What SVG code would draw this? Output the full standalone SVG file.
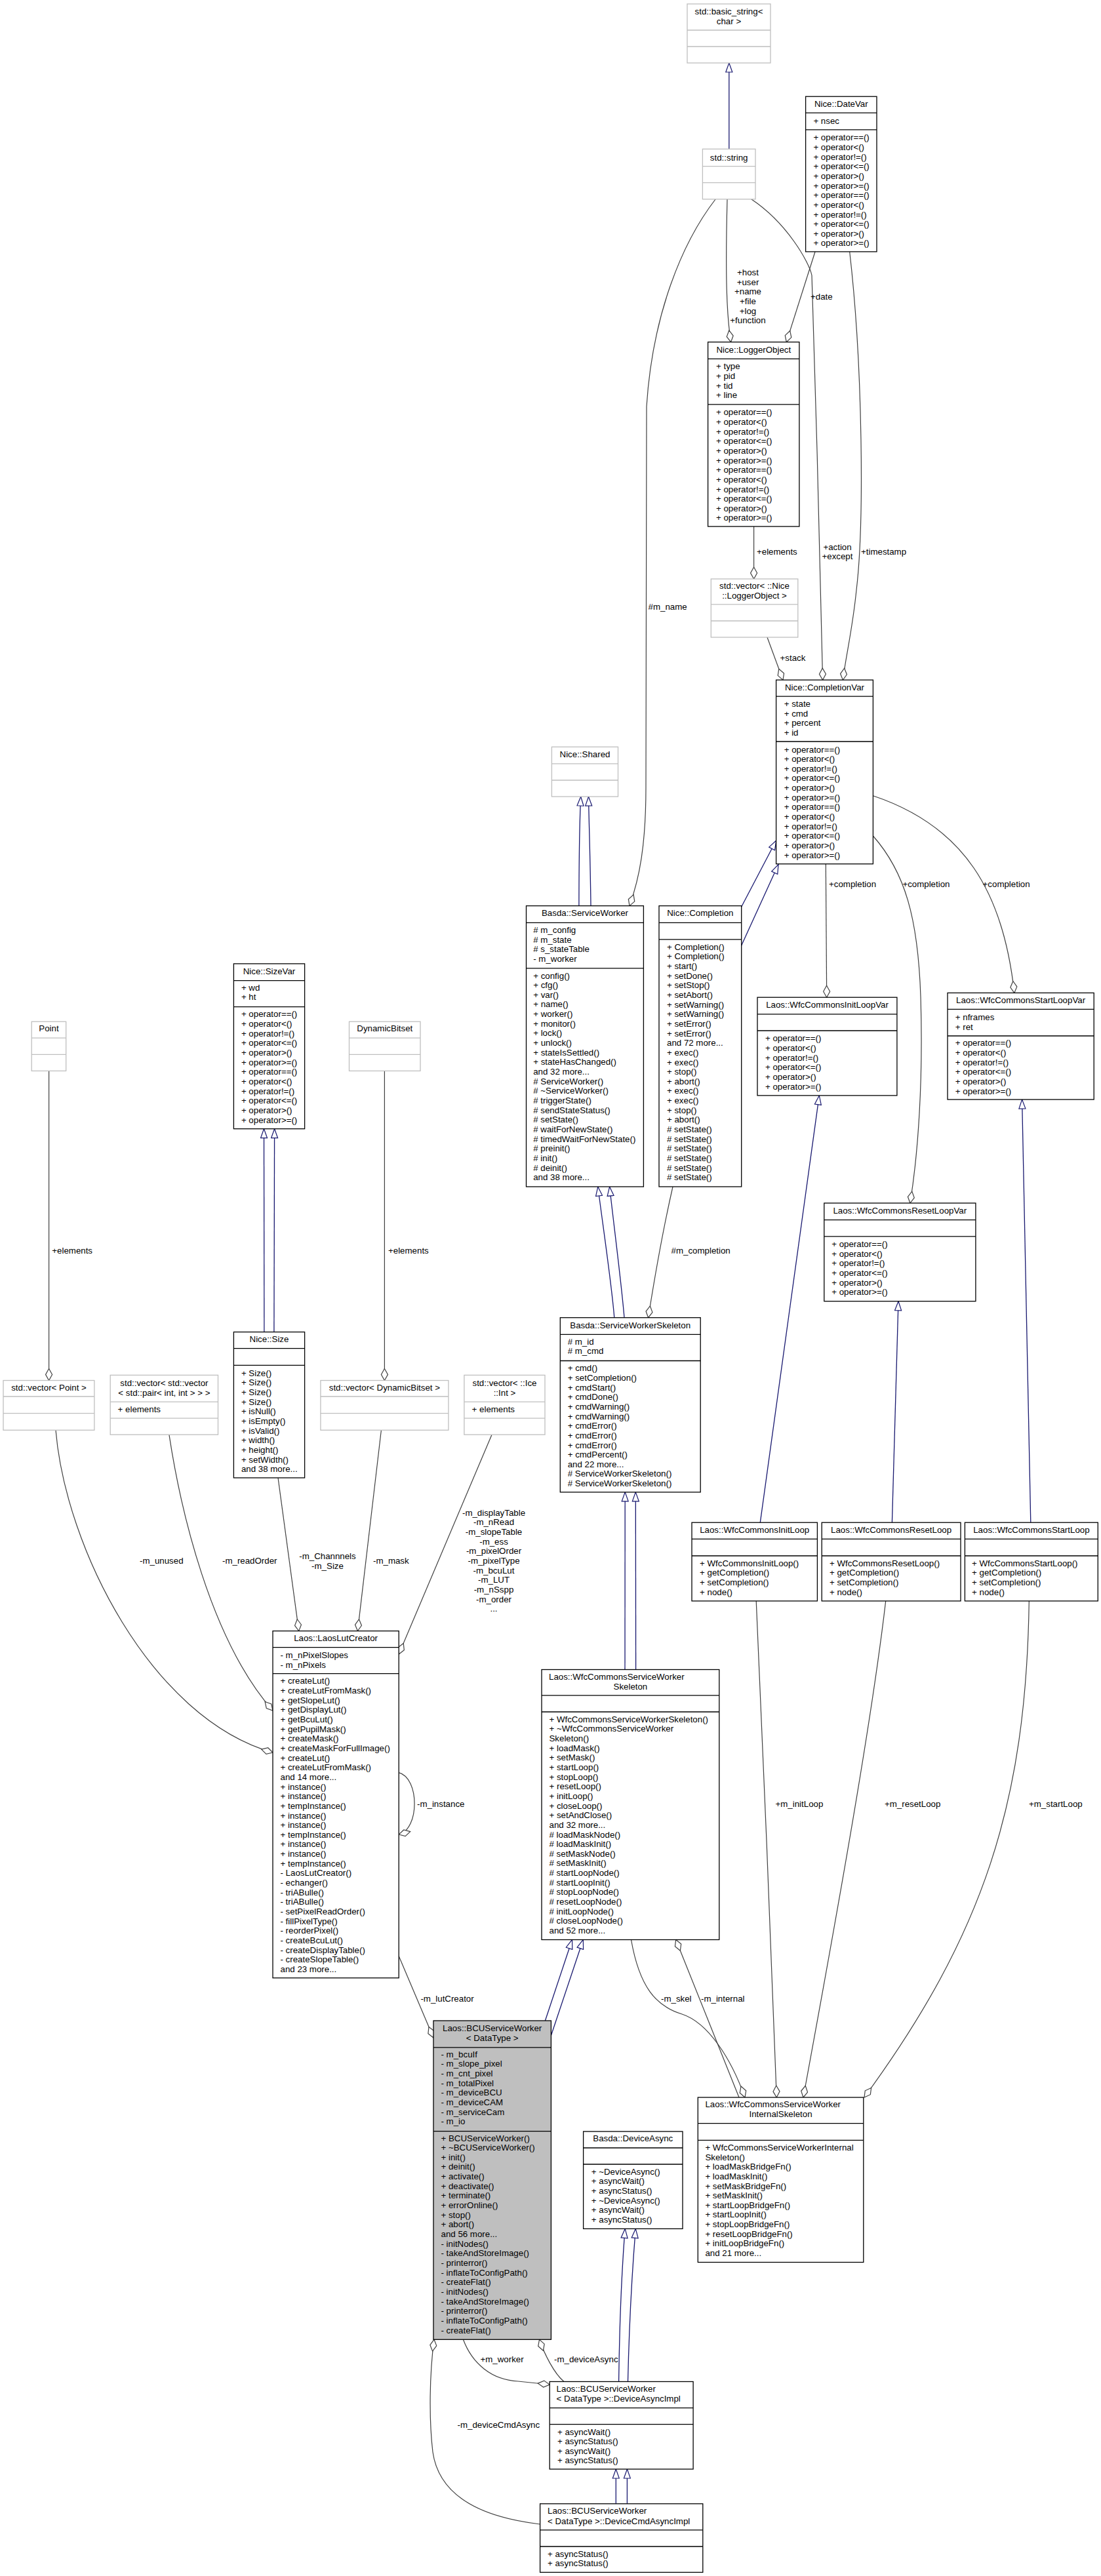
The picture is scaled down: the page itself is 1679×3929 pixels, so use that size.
<svg xmlns="http://www.w3.org/2000/svg" width="1679" height="3929" viewBox="0 0 1679 3929">
<style>
.n{fill:#fff;stroke:#000;stroke-width:1.3}
.g{fill:#fff;stroke:#bfbfbf;stroke-width:1.3}
.h{fill:#bfbfbf;stroke:#000;stroke-width:1.3}
.t{font-family:"Liberation Sans",Arial,sans-serif;font-size:13.3px;fill:#000}
.c{text-anchor:middle}
.u{fill:none;stroke:#404040;stroke-width:1.2;marker-end:url(#dia)}
.i{fill:none;stroke:#191970;stroke-width:1.3;marker-end:url(#tri)}
</style>
<defs>
<marker id="tri" markerUnits="userSpaceOnUse" markerWidth="16" markerHeight="12" viewBox="-1 -1 16 12" refX="14" refY="5" orient="auto"><path d="M0,0L14,5L0,10Z" fill="#fff" stroke="#191970" stroke-width="1.2"/></marker>
<marker id="dia" markerUnits="userSpaceOnUse" markerWidth="20" markerHeight="12" viewBox="-1 -1 20 12" refX="18" refY="5" orient="auto"><path d="M0,5L9,0L18,5L9,10Z" fill="#fff" stroke="#404040" stroke-width="1.2"/></marker>
</defs>
<rect width="1679" height="3929" fill="#fff"/>

<g id="connectors">
<!-- inheritance -->
<path class="i" d="M1111.8,227.3L1111.8,96"/>
<path class="i" d="M882.9,1381.6C883,1300 884,1250 885.7,1215"/>
<path class="i" d="M901,1381.6C900,1300 898,1250 897.5,1215"/>
<path class="i" d="M1130.7,1383L1183.6,1282"/>
<path class="i" d="M1130.7,1442L1187,1318.5"/>
<path class="i" d="M936.8,2009.7C933,1960 918,1860 911.8,1810"/>
<path class="i" d="M952,2009.7C948,1960 935,1860 929.6,1810"/>
<path class="i" d="M953,2546.5L953.2,2275.9"/>
<path class="i" d="M969.6,2546.5L969.3,2275.9"/>
<path class="i" d="M1159.3,2322.2L1249.3,1670.9"/>
<path class="i" d="M1360.4,2322.2L1370,1984.7"/>
<path class="i" d="M1571.8,2322.2L1558.6,1677"/>
<path class="i" d="M402.9,2031.6L402.5,1721.7"/>
<path class="i" d="M417.9,2031.6L418.6,1721.7"/>
<path class="i" d="M831.4,3082L872.5,2958.5"/>
<path class="i" d="M840.4,3104.5L889.3,2958.5"/>
<path class="i" d="M943.6,3632.5C945,3520 950,3440 953.2,3399.4"/>
<path class="i" d="M957.5,3632.5C960,3520 966,3440 969.3,3399.4"/>
<path class="i" d="M939.3,3818.8L939.3,3766"/>
<path class="i" d="M956.4,3818.8L956.4,3766"/>
<!-- usage -->
<path class="u" d="M1109,304C1106,420 1108,480 1114.6,521.7"/>
<path class="u" d="M1243,384L1199.3,521.7"/>
<path class="u" d="M1145.7,303.8C1200,340 1234,400 1238,420C1244,600 1252,900 1254.6,1037.1"/>
<path class="u" d="M1295.7,384C1316,560 1318,800 1306,900C1300,960 1290,1000 1285.4,1037.1"/>
<path class="u" d="M1149.6,803L1149.6,883"/>
<path class="u" d="M1170,972L1194,1037.1"/>
<path class="u" d="M1091,304C1040,370 995,480 986,620L985,1200C985,1290 975,1340 960,1381.6"/>
<path class="u" d="M1026,1810C1010,1880 998,1950 988.6,2009.7"/>
<path class="u" d="M1259.3,1317.7L1260.7,1521.2"/>
<path class="u" d="M1331.4,1275C1380,1330 1400,1400 1404,1520C1408,1650 1400,1760 1387.9,1835"/>
<path class="u" d="M1331.4,1213.7C1470,1260 1530,1360 1546.8,1514.4"/>
<path class="u" d="M74.6,1633.4L74.6,2105.5"/>
<path class="u" d="M586.4,1633.4L586.4,2105.5"/>
<path class="u" d="M85,2181.3C100,2360 230,2620 416,2673"/>
<path class="u" d="M257.9,2188.2C275,2300 320,2500 416,2609"/>
<path class="u" d="M424,2254L455.7,2487.6"/>
<path class="u" d="M581.4,2181.3L545.4,2487.6"/>
<path class="u" d="M750,2188.2L608.2,2523"/>
<path class="u" d="M608.2,2703.6C640,2712 640,2790 608.2,2798"/>
<path class="u" d="M608.2,2983.6L661,3108"/>
<path class="u" d="M962.5,2958.5C975,3030 1000,3060 1040,3072C1080,3085 1115,3140 1136,3199"/>
<path class="u" d="M1127,3199L1030.7,2958.5"/>
<path class="u" d="M1153.2,2441.9C1162,2650 1178,3000 1184.3,3199"/>
<path class="u" d="M1350.7,2441.9C1330,2620 1280,2900 1225,3199"/>
<path class="u" d="M1569.3,2441.9C1565,2750 1500,2950 1318,3199"/>
<path class="u" d="M706.4,3568.3C720,3605 750,3630 790,3632L838.2,3637"/>
<path class="u" d="M860,3632.5C845,3620 830,3590 822.5,3568.3"/>
<path class="u" d="M823.6,3850C740,3840 670,3810 660,3740C654,3690 655,3620 662,3568.3"/>
<!-- labels -->
<text class="t c" x="1140.5"><tspan x="1140.5" y="419.7">+host</tspan><tspan x="1140.5" y="434.8">+user</tspan><tspan x="1140.5" y="449.2">+name</tspan><tspan x="1140.5" y="464.2">+file</tspan><tspan x="1140.5" y="479.2">+log</tspan><tspan x="1140.5" y="493">+function</tspan></text>
<text class="t" x="1236" y="456.7">+date</text>
<text class="t c"><tspan x="1277" y="838.8">+action</tspan><tspan x="1277" y="853.1">+except</tspan></text>
<text class="t" x="1313" y="845.6">+timestamp</text>
<text class="t" x="1154" y="845.6">+elements</text>
<text class="t" x="1189.6" y="1008.4">+stack</text>
<text class="t" x="988.6" y="930.2">#m_name</text>
<text class="t" x="1023.6" y="1912.1">#m_completion</text>
<text class="t" x="1264" y="1352.9">+completion</text>
<text class="t" x="1376.4" y="1352.9">+completion</text>
<text class="t" x="1498.6" y="1352.9">+completion</text>
<text class="t" x="79.3" y="1912.1">+elements</text>
<text class="t" x="592" y="1912.1">+elements</text>
<text class="t" x="213" y="2385">-m_unused</text>
<text class="t" x="339" y="2385">-m_readOrder</text>
<text class="t c"><tspan x="499.5" y="2378.1">-m_Channnels</tspan><tspan x="499.5" y="2393.1">-m_Size</tspan></text>
<text class="t" x="569" y="2385">-m_mask</text>
<text class="t c"><tspan x="753" y="2311.7">-m_displayTable</tspan><tspan x="753" y="2326.4">-m_nRead</tspan><tspan x="753" y="2341">-m_slopeTable</tspan><tspan x="753" y="2355.7">-m_ess</tspan><tspan x="753" y="2370.3">-m_pixelOrder</tspan><tspan x="753" y="2385">-m_pixelType</tspan><tspan x="753" y="2399.6">-m_bcuLut</tspan><tspan x="753" y="2414.3">-m_LUT</tspan><tspan x="753" y="2428.9">-m_nSspp</tspan><tspan x="753" y="2443.6">-m_order</tspan><tspan x="753" y="2458.2">...</tspan></text>
<text class="t" x="636" y="2755.5">-m_instance</text>
<text class="t" x="641.4" y="3052.5">-m_lutCreator</text>
<text class="t" x="1008" y="3052.5">-m_skel</text>
<text class="t" x="1069" y="3052.5">-m_internal</text>
<text class="t" x="1182.5" y="2755.5">+m_initLoop</text>
<text class="t" x="1349" y="2755.5">+m_resetLoop</text>
<text class="t" x="1569" y="2755.5">+m_startLoop</text>
<text class="t" x="732.5" y="3603.1">+m_worker</text>
<text class="t" x="845" y="3603.1">-m_deviceAsync</text>
<text class="t" x="697.5" y="3702.5">-m_deviceCmdAsync</text>
</g>

<g id="n_basic_string">
<rect class="g" x="1048" y="6" width="127" height="90"/>
<path class="g" d="M1048,46H1175M1048,71H1175"/>
<text class="t c"><tspan x="1111.5" y="22">std::basic_string&lt;</tspan><tspan x="1111.5" y="37">char &gt;</tspan></text>
</g>

<g id="n_string">
<rect class="g" x="1071.4" y="227.3" width="80.6" height="76.5"/>
<path class="g" d="M1071.4,253.6H1152M1071.4,278.7H1152"/>
<text class="t c" x="1111.7" y="244.5">std::string</text>
</g>

<g id="n_datevar">
<rect class="n" x="1228.6" y="147.2" width="108.4" height="236.7"/>
<path class="n" d="M1228.6,172.2H1337M1228.6,197.9H1337"/>
<text class="t c" x="1282.8" y="163">Nice::DateVar</text>
<text class="t" x="1240.4" y="189.3">+ nsec</text>
<text class="t"><tspan x="1240.4" y="214.3">+ operator==()</tspan><tspan x="1240.4" dy="14.65">+ operator&lt;()</tspan><tspan x="1240.4" dy="14.65">+ operator!=()</tspan><tspan x="1240.4" dy="14.65">+ operator&lt;=()</tspan><tspan x="1240.4" dy="14.65">+ operator&gt;()</tspan><tspan x="1240.4" dy="14.65">+ operator&gt;=()</tspan><tspan x="1240.4" dy="14.65">+ operator==()</tspan><tspan x="1240.4" dy="14.65">+ operator&lt;()</tspan><tspan x="1240.4" dy="14.65">+ operator!=()</tspan><tspan x="1240.4" dy="14.65">+ operator&lt;=()</tspan><tspan x="1240.4" dy="14.65">+ operator&gt;()</tspan><tspan x="1240.4" dy="14.65">+ operator&gt;=()</tspan></text>
</g>

<g id="n_loggerobject">
<rect class="n" x="1079.6" y="521.7" width="139.3" height="281.3"/>
<path class="n" d="M1079.6,547.4H1218.9M1079.6,616.9H1218.9"/>
<text class="t c" x="1149.3" y="538.1">Nice::LoggerObject</text>
<text class="t"><tspan x="1092" y="563.2">+ type</tspan><tspan x="1092" dy="14.65">+ pid</tspan><tspan x="1092" dy="14.65">+ tid</tspan><tspan x="1092" dy="14.65">+ line</tspan></text>
<text class="t"><tspan x="1092" y="633.3">+ operator==()</tspan><tspan x="1092" dy="14.65">+ operator&lt;()</tspan><tspan x="1092" dy="14.65">+ operator!=()</tspan><tspan x="1092" dy="14.65">+ operator&lt;=()</tspan><tspan x="1092" dy="14.65">+ operator&gt;()</tspan><tspan x="1092" dy="14.65">+ operator&gt;=()</tspan><tspan x="1092" dy="14.65">+ operator==()</tspan><tspan x="1092" dy="14.65">+ operator&lt;()</tspan><tspan x="1092" dy="14.65">+ operator!=()</tspan><tspan x="1092" dy="14.65">+ operator&lt;=()</tspan><tspan x="1092" dy="14.65">+ operator&gt;()</tspan><tspan x="1092" dy="14.65">+ operator&gt;=()</tspan></text>
</g>

<g id="n_vector_loggerobject">
<rect class="g" x="1084.3" y="883" width="132.5" height="89"/>
<path class="g" d="M1084.3,921.9H1216.8M1084.3,947H1216.8"/>
<text class="t c"><tspan x="1150.5" y="898.2">std::vector&lt; ::Nice</tspan><tspan x="1150.5" y="913.2">::LoggerObject &gt;</tspan></text>
</g>

<g id="n_completionvar">
<rect class="n" x="1183.6" y="1037.1" width="147.8" height="280.6"/>
<path class="n" d="M1183.6,1062.2H1331.4M1183.6,1131H1331.4"/>
<text class="t c" x="1257.5" y="1052.9">Nice::CompletionVar</text>
<text class="t"><tspan x="1195.7" y="1077.9">+ state</tspan><tspan x="1195.7" dy="14.65">+ cmd</tspan><tspan x="1195.7" dy="14.65">+ percent</tspan><tspan x="1195.7" dy="14.65">+ id</tspan></text>
<text class="t"><tspan x="1195.7" y="1147.5">+ operator==()</tspan><tspan x="1195.7" dy="14.65">+ operator&lt;()</tspan><tspan x="1195.7" dy="14.65">+ operator!=()</tspan><tspan x="1195.7" dy="14.65">+ operator&lt;=()</tspan><tspan x="1195.7" dy="14.65">+ operator&gt;()</tspan><tspan x="1195.7" dy="14.65">+ operator&gt;=()</tspan><tspan x="1195.7" dy="14.65">+ operator==()</tspan><tspan x="1195.7" dy="14.65">+ operator&lt;()</tspan><tspan x="1195.7" dy="14.65">+ operator!=()</tspan><tspan x="1195.7" dy="14.65">+ operator&lt;=()</tspan><tspan x="1195.7" dy="14.65">+ operator&gt;()</tspan><tspan x="1195.7" dy="14.65">+ operator&gt;=()</tspan></text>
</g>

<g id="n_shared">
<rect class="g" x="841.4" y="1139.2" width="101.1" height="75.8"/>
<path class="g" d="M841.4,1164.9H942.5M841.4,1190H942.5"/>
<text class="t c" x="892" y="1155">Nice::Shared</text>
</g>

<g id="n_serviceworker">
<rect class="n" x="802.5" y="1381.6" width="178.9" height="428.4"/>
<path class="n" d="M802.5,1407.3H981.4M802.5,1476.8H981.4"/>
<text class="t c" x="892" y="1397.4">Basda::ServiceWorker</text>
<text class="t"><tspan x="813.2" y="1423"># m_config</tspan><tspan x="813.2" dy="14.65"># m_state</tspan><tspan x="813.2" dy="14.65"># s_stateTable</tspan><tspan x="813.2" dy="14.65">- m_worker</tspan></text>
<text class="t"><tspan x="813.2" y="1492.5">+ config()</tspan><tspan x="813.2" dy="14.65">+ cfg()</tspan><tspan x="813.2" dy="14.65">+ var()</tspan><tspan x="813.2" dy="14.65">+ name()</tspan><tspan x="813.2" dy="14.65">+ worker()</tspan><tspan x="813.2" dy="14.65">+ monitor()</tspan><tspan x="813.2" dy="14.65">+ lock()</tspan><tspan x="813.2" dy="14.65">+ unlock()</tspan><tspan x="813.2" dy="14.65">+ stateIsSettled()</tspan><tspan x="813.2" dy="14.65">+ stateHasChanged()</tspan><tspan x="813.2" dy="14.65">and 32 more...</tspan><tspan x="813.2" dy="14.65"># ServiceWorker()</tspan><tspan x="813.2" dy="14.65"># ~ServiceWorker()</tspan><tspan x="813.2" dy="14.65"># triggerState()</tspan><tspan x="813.2" dy="14.65"># sendStateStatus()</tspan><tspan x="813.2" dy="14.65"># setState()</tspan><tspan x="813.2" dy="14.65"># waitForNewState()</tspan><tspan x="813.2" dy="14.65"># timedWaitForNewState()</tspan><tspan x="813.2" dy="14.65"># preinit()</tspan><tspan x="813.2" dy="14.65"># init()</tspan><tspan x="813.2" dy="14.65"># deinit()</tspan><tspan x="813.2" dy="14.65">and 38 more...</tspan></text>
</g>

<g id="n_completion">
<rect class="n" x="1005" y="1381.6" width="125.7" height="428.4"/>
<path class="n" d="M1005,1407.3H1130.7M1005,1432.9H1130.7"/>
<text class="t c" x="1067.8" y="1397.4">Nice::Completion</text>
<text class="t"><tspan x="1017" y="1448.7">+ Completion()</tspan><tspan x="1017" dy="14.65">+ Completion()</tspan><tspan x="1017" dy="14.65">+ start()</tspan><tspan x="1017" dy="14.65">+ setDone()</tspan><tspan x="1017" dy="14.65">+ setStop()</tspan><tspan x="1017" dy="14.65">+ setAbort()</tspan><tspan x="1017" dy="14.65">+ setWarning()</tspan><tspan x="1017" dy="14.65">+ setWarning()</tspan><tspan x="1017" dy="14.65">+ setError()</tspan><tspan x="1017" dy="14.65">+ setError()</tspan><tspan x="1017" dy="14.65">and 72 more...</tspan><tspan x="1017" dy="14.65">+ exec()</tspan><tspan x="1017" dy="14.65">+ exec()</tspan><tspan x="1017" dy="14.65">+ stop()</tspan><tspan x="1017" dy="14.65">+ abort()</tspan><tspan x="1017" dy="14.65">+ exec()</tspan><tspan x="1017" dy="14.65">+ exec()</tspan><tspan x="1017" dy="14.65">+ stop()</tspan><tspan x="1017" dy="14.65">+ abort()</tspan><tspan x="1017" dy="14.65"># setState()</tspan><tspan x="1017" dy="14.65"># setState()</tspan><tspan x="1017" dy="14.65"># setState()</tspan><tspan x="1017" dy="14.65"># setState()</tspan><tspan x="1017" dy="14.65"># setState()</tspan><tspan x="1017" dy="14.65"># setState()</tspan></text>
</g>

<g id="n_serviceworkerskeleton">
<rect class="n" x="854.3" y="2009.7" width="213.9" height="266.2"/>
<path class="n" d="M854.3,2035.4H1068.2M854.3,2075.5H1068.2"/>
<text class="t c" x="961.2" y="2026.1">Basda::ServiceWorkerSkeleton</text>
<text class="t"><tspan x="865.7" y="2050.5"># m_id</tspan><tspan x="865.7" dy="14.65"># m_cmd</tspan></text>
<text class="t"><tspan x="865.7" y="2091.3">+ cmd()</tspan><tspan x="865.7" dy="14.65">+ setCompletion()</tspan><tspan x="865.7" dy="14.65">+ cmdStart()</tspan><tspan x="865.7" dy="14.65">+ cmdDone()</tspan><tspan x="865.7" dy="14.65">+ cmdWarning()</tspan><tspan x="865.7" dy="14.65">+ cmdWarning()</tspan><tspan x="865.7" dy="14.65">+ cmdError()</tspan><tspan x="865.7" dy="14.65">+ cmdError()</tspan><tspan x="865.7" dy="14.65">+ cmdError()</tspan><tspan x="865.7" dy="14.65">+ cmdPercent()</tspan><tspan x="865.7" dy="14.65">and 22 more...</tspan><tspan x="865.7" dy="14.65"># ServiceWorkerSkeleton()</tspan><tspan x="865.7" dy="14.65"># ServiceWorkerSkeleton()</tspan></text>
</g>

<g id="n_wfcskeleton">
<rect class="n" x="826" y="2546.5" width="270.8" height="412"/>
<path class="n" d="M826,2585.9H1096.8M826,2611H1096.8"/>
<text class="t" x="837" y="2561.5">Laos::WfcCommonsServiceWorker</text>
<text class="t c" x="961.4" y="2576.5">Skeleton</text>
<text class="t"><tspan x="837.5" y="2626.7">+ WfcCommonsServiceWorkerSkeleton()</tspan><tspan x="837.5" dy="14.65">+ ~WfcCommonsServiceWorker</tspan><tspan x="837.5" dy="14.65">Skeleton()</tspan><tspan x="837.5" dy="14.65">+ loadMask()</tspan><tspan x="837.5" dy="14.65">+ setMask()</tspan><tspan x="837.5" dy="14.65">+ startLoop()</tspan><tspan x="837.5" dy="14.65">+ stopLoop()</tspan><tspan x="837.5" dy="14.65">+ resetLoop()</tspan><tspan x="837.5" dy="14.65">+ initLoop()</tspan><tspan x="837.5" dy="14.65">+ closeLoop()</tspan><tspan x="837.5" dy="14.65">+ setAndClose()</tspan><tspan x="837.5" dy="14.65">and 32 more...</tspan><tspan x="837.5" dy="14.65"># loadMaskNode()</tspan><tspan x="837.5" dy="14.65"># loadMaskInit()</tspan><tspan x="837.5" dy="14.65"># setMaskNode()</tspan><tspan x="837.5" dy="14.65"># setMaskInit()</tspan><tspan x="837.5" dy="14.65"># startLoopNode()</tspan><tspan x="837.5" dy="14.65"># startLoopInit()</tspan><tspan x="837.5" dy="14.65"># stopLoopNode()</tspan><tspan x="837.5" dy="14.65"># resetLoopNode()</tspan><tspan x="837.5" dy="14.65"># initLoopNode()</tspan><tspan x="837.5" dy="14.65"># closeLoopNode()</tspan><tspan x="837.5" dy="14.65">and 52 more...</tspan></text>
</g>

<g id="n_initloopvar">
<rect class="n" x="1155" y="1521.2" width="212.9" height="149.7"/>
<path class="n" d="M1155,1546.9H1367.9M1155,1572H1367.9"/>
<text class="t c" x="1261.5" y="1537">Laos::WfcCommonsInitLoopVar</text>
<text class="t"><tspan x="1167" y="1588.4">+ operator==()</tspan><tspan x="1167" dy="14.65">+ operator&lt;()</tspan><tspan x="1167" dy="14.65">+ operator!=()</tspan><tspan x="1167" dy="14.65">+ operator&lt;=()</tspan><tspan x="1167" dy="14.65">+ operator&gt;()</tspan><tspan x="1167" dy="14.65">+ operator&gt;=()</tspan></text>
</g>

<g id="n_startloopvar">
<rect class="n" x="1445" y="1514.4" width="223.2" height="162.6"/>
<path class="n" d="M1445,1539.4H1668.2M1445,1580H1668.2"/>
<text class="t c" x="1556.6" y="1529.5">Laos::WfcCommonsStartLoopVar</text>
<text class="t"><tspan x="1456.8" y="1556.2">+ nframes</tspan><tspan x="1456.8" dy="14.65">+ ret</tspan></text>
<text class="t"><tspan x="1456.8" y="1595.3">+ operator==()</tspan><tspan x="1456.8" dy="14.65">+ operator&lt;()</tspan><tspan x="1456.8" dy="14.65">+ operator!=()</tspan><tspan x="1456.8" dy="14.65">+ operator&lt;=()</tspan><tspan x="1456.8" dy="14.65">+ operator&gt;()</tspan><tspan x="1456.8" dy="14.65">+ operator&gt;=()</tspan></text>
</g>

<g id="n_resetloopvar">
<rect class="n" x="1256.8" y="1835" width="231.1" height="149.7"/>
<path class="n" d="M1256.8,1860.7H1487.9M1256.8,1885.8H1487.9"/>
<text class="t c" x="1372.3" y="1850.8">Laos::WfcCommonsResetLoopVar</text>
<text class="t"><tspan x="1268.2" y="1902.1">+ operator==()</tspan><tspan x="1268.2" dy="14.65">+ operator&lt;()</tspan><tspan x="1268.2" dy="14.65">+ operator!=()</tspan><tspan x="1268.2" dy="14.65">+ operator&lt;=()</tspan><tspan x="1268.2" dy="14.65">+ operator&gt;()</tspan><tspan x="1268.2" dy="14.65">+ operator&gt;=()</tspan></text>
</g>

<g id="n_initloop">
<rect class="n" x="1055" y="2322.2" width="191.4" height="119.7"/>
<path class="n" d="M1055,2347.3H1246.4M1055,2373H1246.4"/>
<text class="t c" x="1150.7" y="2338">Laos::WfcCommonsInitLoop</text>
<text class="t"><tspan x="1067.1" y="2388.7">+ WfcCommonsInitLoop()</tspan><tspan x="1067.1" dy="14.65">+ getCompletion()</tspan><tspan x="1067.1" dy="14.65">+ setCompletion()</tspan><tspan x="1067.1" dy="14.65">+ node()</tspan></text>
</g>

<g id="n_resetloop">
<rect class="n" x="1253.2" y="2322.2" width="211.8" height="119.7"/>
<path class="n" d="M1253.2,2347.3H1465M1253.2,2373H1465"/>
<text class="t c" x="1359.1" y="2338">Laos::WfcCommonsResetLoop</text>
<text class="t"><tspan x="1265" y="2388.7">+ WfcCommonsResetLoop()</tspan><tspan x="1265" dy="14.65">+ getCompletion()</tspan><tspan x="1265" dy="14.65">+ setCompletion()</tspan><tspan x="1265" dy="14.65">+ node()</tspan></text>
</g>

<g id="n_startloop">
<rect class="n" x="1471.4" y="2322.2" width="202.9" height="119.7"/>
<path class="n" d="M1471.4,2347.3H1674.3M1471.4,2373H1674.3"/>
<text class="t c" x="1572.9" y="2338">Laos::WfcCommonsStartLoop</text>
<text class="t"><tspan x="1482.1" y="2388.7">+ WfcCommonsStartLoop()</tspan><tspan x="1482.1" dy="14.65">+ getCompletion()</tspan><tspan x="1482.1" dy="14.65">+ setCompletion()</tspan><tspan x="1482.1" dy="14.65">+ node()</tspan></text>
</g>

<g id="n_internalskeleton">
<rect class="n" x="1064.3" y="3199" width="252.5" height="251.5"/>
<path class="n" d="M1064.3,3238.6H1316.8M1064.3,3264.3H1316.8"/>
<text class="t" x="1075.4" y="3214.2">Laos::WfcCommonsServiceWorker</text>
<text class="t c" x="1190.5" y="3229.2">InternalSkeleton</text>
<text class="t"><tspan x="1075.4" y="3279.9">+ WfcCommonsServiceWorkerInternal</tspan><tspan x="1075.4" dy="14.65">Skeleton()</tspan><tspan x="1075.4" dy="14.65">+ loadMaskBridgeFn()</tspan><tspan x="1075.4" dy="14.65">+ loadMaskInit()</tspan><tspan x="1075.4" dy="14.65">+ setMaskBridgeFn()</tspan><tspan x="1075.4" dy="14.65">+ setMaskInit()</tspan><tspan x="1075.4" dy="14.65">+ startLoopBridgeFn()</tspan><tspan x="1075.4" dy="14.65">+ startLoopInit()</tspan><tspan x="1075.4" dy="14.65">+ stopLoopBridgeFn()</tspan><tspan x="1075.4" dy="14.65">+ resetLoopBridgeFn()</tspan><tspan x="1075.4" dy="14.65">+ initLoopBridgeFn()</tspan><tspan x="1075.4" dy="14.65">and 21 more...</tspan></text>
</g>

<g id="n_bcuserviceworker">
<rect class="h" x="661" y="3082" width="179.4" height="486.3"/>
<path class="h" d="M661,3122.8H840.4M661,3250.6H840.4"/>
<text class="t c"><tspan x="750.7" y="3097.7">Laos::BCUServiceWorker</tspan><tspan x="750.7" y="3112.8">&lt; DataType &gt;</tspan></text>
<text class="t"><tspan x="672.5" y="3137.8">- m_bcuIf</tspan><tspan x="672.5" dy="14.65">- m_slope_pixel</tspan><tspan x="672.5" dy="14.65">- m_cnt_pixel</tspan><tspan x="672.5" dy="14.65">- m_totalPixel</tspan><tspan x="672.5" dy="14.65">- m_deviceBCU</tspan><tspan x="672.5" dy="14.65">- m_deviceCAM</tspan><tspan x="672.5" dy="14.65">- m_serviceCam</tspan><tspan x="672.5" dy="14.65">- m_io</tspan></text>
<text class="t"><tspan x="672.5" y="3265.5">+ BCUServiceWorker()</tspan><tspan x="672.5" dy="14.65">+ ~BCUServiceWorker()</tspan><tspan x="672.5" dy="14.65">+ init()</tspan><tspan x="672.5" dy="14.65">+ deinit()</tspan><tspan x="672.5" dy="14.65">+ activate()</tspan><tspan x="672.5" dy="14.65">+ deactivate()</tspan><tspan x="672.5" dy="14.65">+ terminate()</tspan><tspan x="672.5" dy="14.65">+ errorOnline()</tspan><tspan x="672.5" dy="14.65">+ stop()</tspan><tspan x="672.5" dy="14.65">+ abort()</tspan><tspan x="672.5" dy="14.65">and 56 more...</tspan><tspan x="672.5" dy="14.65">- initNodes()</tspan><tspan x="672.5" dy="14.65">- takeAndStoreImage()</tspan><tspan x="672.5" dy="14.65">- printerror()</tspan><tspan x="672.5" dy="14.65">- inflateToConfigPath()</tspan><tspan x="672.5" dy="14.65">- createFlat()</tspan><tspan x="672.5" dy="14.65">- initNodes()</tspan><tspan x="672.5" dy="14.65">- takeAndStoreImage()</tspan><tspan x="672.5" dy="14.65">- printerror()</tspan><tspan x="672.5" dy="14.65">- inflateToConfigPath()</tspan><tspan x="672.5" dy="14.65">- createFlat()</tspan></text>
</g>

<g id="n_deviceasync">
<rect class="n" x="889.6" y="3251" width="151.4" height="148.4"/>
<path class="n" d="M889.6,3276H1041M889.6,3301H1041"/>
<text class="t c" x="965.3" y="3266.2">Basda::DeviceAsync</text>
<text class="t"><tspan x="901.8" y="3316.8">+ ~DeviceAsync()</tspan><tspan x="901.8" dy="14.65">+ asyncWait()</tspan><tspan x="901.8" dy="14.65">+ asyncStatus()</tspan><tspan x="901.8" dy="14.65">+ ~DeviceAsync()</tspan><tspan x="901.8" dy="14.65">+ asyncWait()</tspan><tspan x="901.8" dy="14.65">+ asyncStatus()</tspan></text>
</g>

<g id="n_deviceasyncimpl">
<rect class="n" x="838.2" y="3632.5" width="218.9" height="133.5"/>
<path class="n" d="M838.2,3672.6H1057.1M838.2,3697.6H1057.1"/>
<text class="t"><tspan x="848.6" y="3647.5">Laos::BCUServiceWorker</tspan><tspan x="848.6" y="3662.5">&lt; DataType &gt;::DeviceAsyncImpl</tspan></text>
<text class="t"><tspan x="850" y="3713.5">+ asyncWait()</tspan><tspan x="850" dy="14.65">+ asyncStatus()</tspan><tspan x="850" dy="14.65">+ asyncWait()</tspan><tspan x="850" dy="14.65">+ asyncStatus()</tspan></text>
</g>

<g id="n_devicecmdasyncimpl">
<rect class="n" x="823.6" y="3818.8" width="248.2" height="104.6"/>
<path class="n" d="M823.6,3858.8H1071.8M823.6,3884H1071.8"/>
<text class="t"><tspan x="835" y="3833.9">Laos::BCUServiceWorker</tspan><tspan x="835" y="3849.5">&lt; DataType &gt;::DeviceCmdAsyncImpl</tspan></text>
<text class="t"><tspan x="835" y="3899.5">+ asyncStatus()</tspan><tspan x="835" dy="14.65">+ asyncStatus()</tspan></text>
</g>

<g id="n_sizevar">
<rect class="n" x="356.4" y="1469.9" width="108.2" height="251.8"/>
<path class="n" d="M356.4,1495.6H464.6M356.4,1535.7H464.6"/>
<text class="t c" x="410.5" y="1485.7">Nice::SizeVar</text>
<text class="t"><tspan x="367.9" y="1510.7">+ wd</tspan><tspan x="367.9" dy="14.65">+ ht</tspan></text>
<text class="t"><tspan x="367.9" y="1551.4">+ operator==()</tspan><tspan x="367.9" dy="14.65">+ operator&lt;()</tspan><tspan x="367.9" dy="14.65">+ operator!=()</tspan><tspan x="367.9" dy="14.65">+ operator&lt;=()</tspan><tspan x="367.9" dy="14.65">+ operator&gt;()</tspan><tspan x="367.9" dy="14.65">+ operator&gt;=()</tspan><tspan x="367.9" dy="14.65">+ operator==()</tspan><tspan x="367.9" dy="14.65">+ operator&lt;()</tspan><tspan x="367.9" dy="14.65">+ operator!=()</tspan><tspan x="367.9" dy="14.65">+ operator&lt;=()</tspan><tspan x="367.9" dy="14.65">+ operator&gt;()</tspan><tspan x="367.9" dy="14.65">+ operator&gt;=()</tspan></text>
</g>

<g id="n_point">
<rect class="g" x="48.2" y="1558.2" width="52.5" height="75.2"/>
<path class="g" d="M48.2,1583.2H100.7M48.2,1608.3H100.7"/>
<text class="t c" x="74.5" y="1573.3">Point</text>
</g>

<g id="n_dynamicbitset">
<rect class="g" x="532.5" y="1558.2" width="108.5" height="75.2"/>
<path class="g" d="M532.5,1583.2H641M532.5,1608.3H641"/>
<text class="t c" x="586.8" y="1573.3">DynamicBitset</text>
</g>

<g id="n_size">
<rect class="n" x="356.4" y="2031.6" width="108.2" height="222.4"/>
<path class="n" d="M356.4,2056.7H464.6M356.4,2082.4H464.6"/>
<text class="t c" x="410.5" y="2047.4">Nice::Size</text>
<text class="t"><tspan x="367.9" y="2098.8">+ Size()</tspan><tspan x="367.9" dy="14.65">+ Size()</tspan><tspan x="367.9" dy="14.65">+ Size()</tspan><tspan x="367.9" dy="14.65">+ Size()</tspan><tspan x="367.9" dy="14.65">+ isNull()</tspan><tspan x="367.9" dy="14.65">+ isEmpty()</tspan><tspan x="367.9" dy="14.65">+ isValid()</tspan><tspan x="367.9" dy="14.65">+ width()</tspan><tspan x="367.9" dy="14.65">+ height()</tspan><tspan x="367.9" dy="14.65">+ setWidth()</tspan><tspan x="367.9" dy="14.65">and 38 more...</tspan></text>
</g>

<g id="n_vector_point">
<rect class="g" x="5" y="2105.5" width="138.9" height="75.8"/>
<path class="g" d="M5,2130H143.9M5,2155.6H143.9"/>
<text class="t c" x="74.5" y="2120.7">std::vector&lt; Point &gt;</text>
</g>

<g id="n_vector_vector_pair">
<rect class="g" x="168.2" y="2097.4" width="164.3" height="90.8"/>
<path class="g" d="M168.2,2138.1H332.5M168.2,2163.2H332.5"/>
<text class="t c"><tspan x="250.4" y="2113.8">std::vector&lt; std::vector</tspan><tspan x="250.4" y="2128.8">&lt; std::pair&lt; int, int &gt; &gt; &gt;</tspan></text>
<text class="t" x="179.6" y="2153.9">+ elements</text>
</g>

<g id="n_vector_dynamicbitset">
<rect class="g" x="488.9" y="2105.5" width="195" height="75.8"/>
<path class="g" d="M488.9,2130H683.9M488.9,2155.6H683.9"/>
<text class="t c" x="586.4" y="2120.7">std::vector&lt; DynamicBitset &gt;</text>
</g>

<g id="n_vector_ice_int">
<rect class="g" x="707.9" y="2097.4" width="123.1" height="90.8"/>
<path class="g" d="M707.9,2138.1H831M707.9,2163.2H831"/>
<text class="t c"><tspan x="769.5" y="2113.8">std::vector&lt; ::Ice</tspan><tspan x="769.5" y="2128.8">::Int &gt;</tspan></text>
<text class="t" x="719.6" y="2153.9">+ elements</text>
</g>

<g id="n_laoslutcreator">
<rect class="n" x="416" y="2487.6" width="192.2" height="529.2"/>
<path class="n" d="M416,2512.6H608.2M416,2552.7H608.2"/>
<text class="t c" x="512.1" y="2502.8">Laos::LaosLutCreator</text>
<text class="t"><tspan x="427.5" y="2529">- m_nPixelSlopes</tspan><tspan x="427.5" dy="14.65">- m_nPixels</tspan></text>
<text class="t"><tspan x="427.5" y="2568.4">+ createLut()</tspan><tspan x="427.5" dy="14.65">+ createLutFromMask()</tspan><tspan x="427.5" dy="14.65">+ getSlopeLut()</tspan><tspan x="427.5" dy="14.65">+ getDisplayLut()</tspan><tspan x="427.5" dy="14.65">+ getBcuLut()</tspan><tspan x="427.5" dy="14.65">+ getPupilMask()</tspan><tspan x="427.5" dy="14.65">+ createMask()</tspan><tspan x="427.5" dy="14.65">+ createMaskForFullImage()</tspan><tspan x="427.5" dy="14.65">+ createLut()</tspan><tspan x="427.5" dy="14.65">+ createLutFromMask()</tspan><tspan x="427.5" dy="14.65">and 14 more...</tspan><tspan x="427.5" dy="14.65">+ instance()</tspan><tspan x="427.5" dy="14.65">+ instance()</tspan><tspan x="427.5" dy="14.65">+ tempInstance()</tspan><tspan x="427.5" dy="14.65">+ instance()</tspan><tspan x="427.5" dy="14.65">+ instance()</tspan><tspan x="427.5" dy="14.65">+ tempInstance()</tspan><tspan x="427.5" dy="14.65">+ instance()</tspan><tspan x="427.5" dy="14.65">+ instance()</tspan><tspan x="427.5" dy="14.65">+ tempInstance()</tspan><tspan x="427.5" dy="14.65">- LaosLutCreator()</tspan><tspan x="427.5" dy="14.65">- echanger()</tspan><tspan x="427.5" dy="14.65">- triABulle()</tspan><tspan x="427.5" dy="14.65">- triABulle()</tspan><tspan x="427.5" dy="14.65">- setPixelReadOrder()</tspan><tspan x="427.5" dy="14.65">- fillPixelType()</tspan><tspan x="427.5" dy="14.65">- reorderPixel()</tspan><tspan x="427.5" dy="14.65">- createBcuLut()</tspan><tspan x="427.5" dy="14.65">- createDisplayTable()</tspan><tspan x="427.5" dy="14.65">- createSlopeTable()</tspan><tspan x="427.5" dy="14.65">and 23 more...</tspan></text>
</g>
</svg>
